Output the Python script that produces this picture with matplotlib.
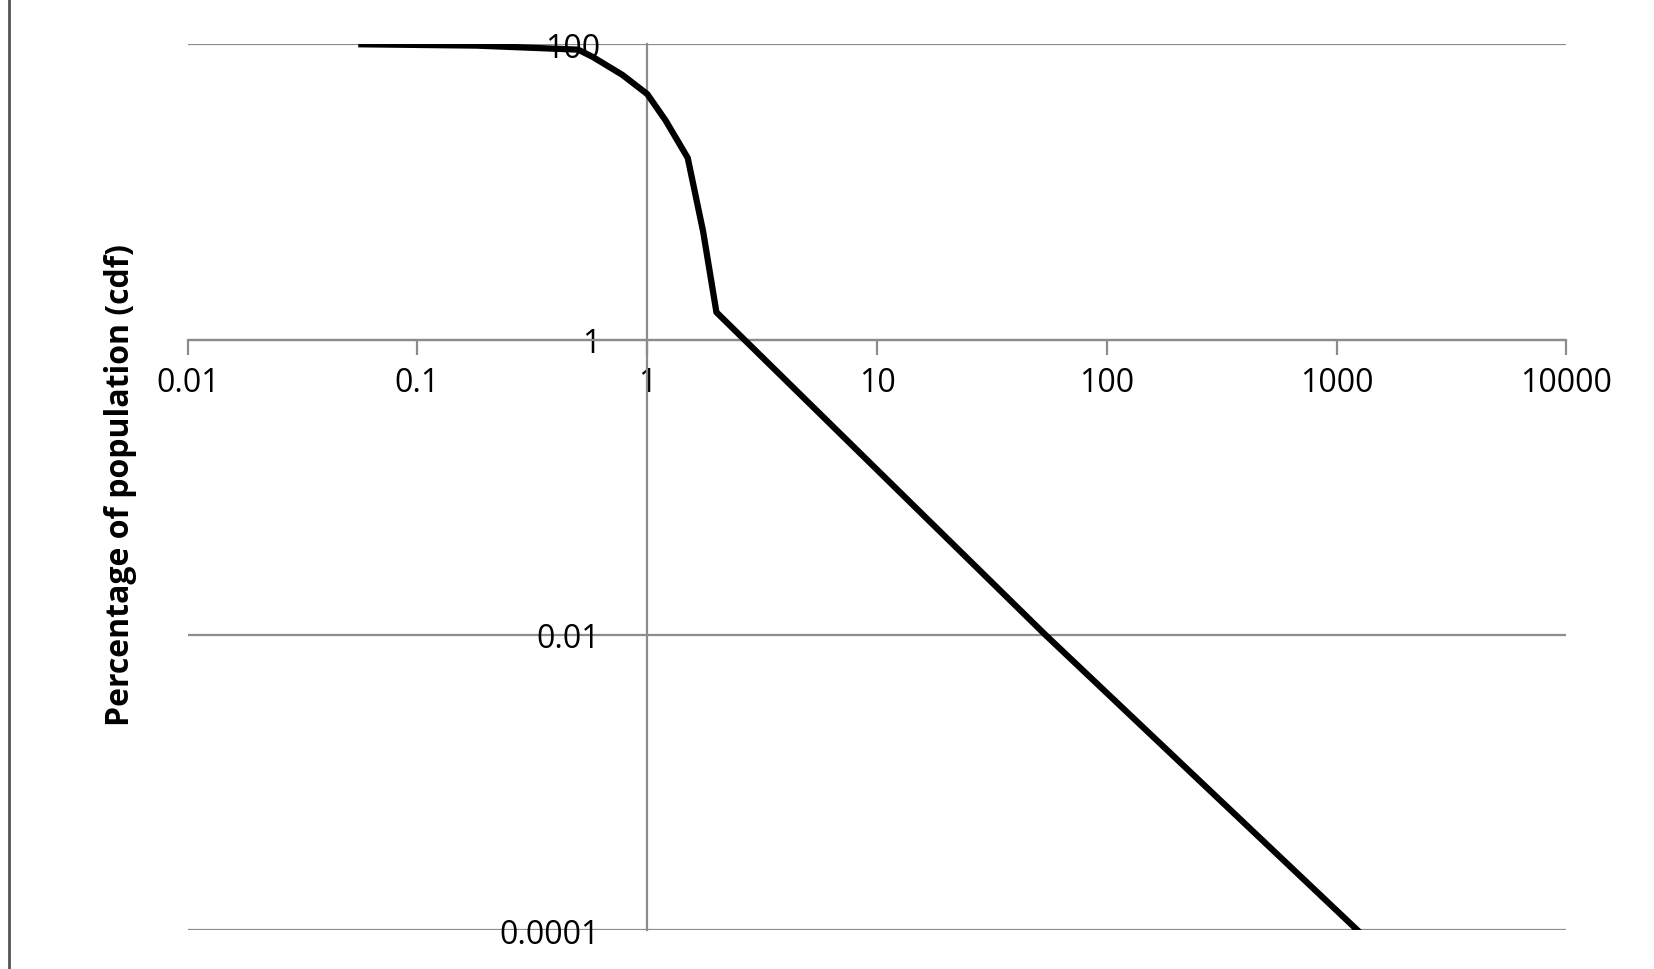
import matplotlib
matplotlib.use("Agg")
import matplotlib.pyplot as plt
from matplotlib.lines import Line2D
from matplotlib.ticker import FixedLocator, FixedFormatter

# values (log-log cdf)
X_VALUES = [0.057, 0.18, 0.5, 0.58, 0.78, 1.0, 1.2, 1.5, 1.75, 2.0, 54, 1230]
Y_VALUES = [100, 98, 92, 82, 62, 46, 30.6, 17, 5.4, 1.53, 0.01, 0.0001]
X_TICKS = [0.01, 0.1, 1, 10, 100, 1000, 10000]
X_LABELS = ["0.01", "0.1", "1", "10", "100", "1000", "10000"]
Y_TICKS = [0.0001, 0.01, 1, 100]
Y_LABELS = ["0.0001", "0.01", "1", "100"]

plt.rcParams["font.family"] = ["Open Sans", "DejaVu Sans"]

fig = plt.figure(figsize=(16.54, 9.70), dpi=100)
ax = fig.add_axes((0.1135, 0.0402, 0.947 - 0.1135, 0.9131))
ax.set_xscale("log")
ax.set_yscale("log")
ax.set_xlim(0.01, 10000)
ax.set_ylim(0.0001, 100)

for y in Y_TICKS:
    ax.axhline(y, color="#8c8c8c", linewidth=1.6, zorder=1)
ax.plot(X_VALUES, Y_VALUES, color="black", linewidth=4.5, solid_joinstyle="round", zorder=3)

for side in ("top", "right"):
    ax.spines[side].set_visible(False)
ax.spines["bottom"].set_position(("data", 1))
ax.spines["left"].set_position(("data", 1))
for side in ("bottom", "left"):
    ax.spines[side].set_color("#8c8c8c")
    ax.spines[side].set_linewidth(1.6)

ax.xaxis.set_major_locator(FixedLocator(X_TICKS))
ax.xaxis.set_major_formatter(FixedFormatter(X_LABELS))
ax.xaxis.set_minor_locator(FixedLocator([]))
ax.yaxis.set_major_locator(FixedLocator(Y_TICKS))
ax.yaxis.set_major_formatter(FixedFormatter(Y_LABELS))
ax.yaxis.set_minor_locator(FixedLocator([]))
ax.tick_params(axis="x", direction="out", length=11, width=1.6, color="#8c8c8c",
               labelsize=23, pad=8)
ax.tick_params(axis="y", length=0, labelsize=23, pad=34)

fig.text(0.073, 0.5, "Percentage of population (cdf)", rotation=90, ha="center",
         va="center", fontsize=23, fontweight="bold")
fig.add_artist(Line2D([0.0055, 0.0055], [0, 1], color="#555555", linewidth=2,
                      transform=fig.transFigure))

fig.savefig("out.png", dpi=100)
